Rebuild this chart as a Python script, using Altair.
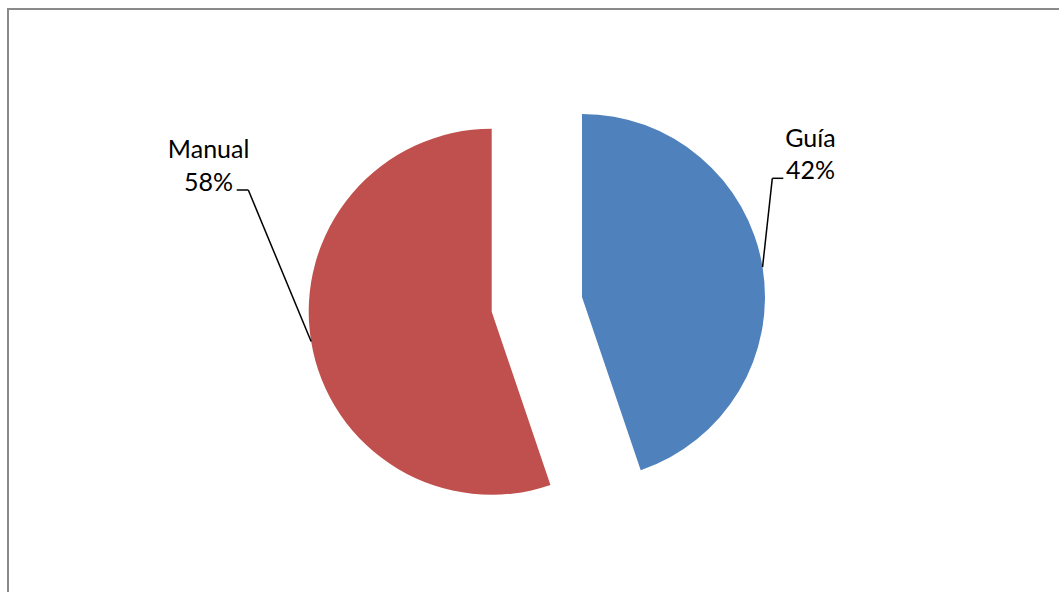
import math
import altair as alt
import pandas as pd

# ---- data ----
categories = ["Guía", "Manual"]
shares = [44.8, 55.2]            # slice sizes as drawn
pct_labels = ["42%", "58%"]      # label texts as printed
colors = ["#4F81BD", "#C0504D"]

# ---- layout (pixels) ----
W, H = 1059, 592
PCX, PCY = 536.85, 304.35        # pie centre before explosion
R = 183                          # radius
EXPLODE = 45.75                  # explosion distance
label_layout = {
    "Guía":   dict(lx=810.4, ly=146.7, bx=772.3, by=178.3, ex=783.3, ey=178.3),
    "Manual": dict(lx=208.6, ly=158.3, bx=248.3, by=190.0, ex=236.7, ey=190.0),
}

rows = []
for i, (c, s, p) in enumerate(zip(categories, shares, pct_labels)):
    r = dict(category=c, share=s, pct=p, order=i)
    r.update(label_layout[c])
    rows.append(r)
df = pd.DataFrame(rows)
total = sum(shares)

xs = alt.Scale(domain=[0, W], range=[0, W], nice=False, zero=False)
ys = alt.Scale(domain=[0, H], range=[0, H], nice=False, zero=False)

base = (
    alt.Chart(df)
    .transform_joinaggregate(total="sum(share)")
    .transform_window(cum="sum(share)", sort=[alt.SortField("order", order="ascending")], frame=[None, 0])
    .transform_calculate(start="datum.cum - datum.share")
    .transform_calculate(mid="(datum.cum - datum.share/2) / datum.total * 2 * PI")
    .transform_calculate(cx=f"{PCX} + {EXPLODE} * sin(datum.mid)")
    .transform_calculate(cy=f"{PCY} - {EXPLODE} * cos(datum.mid)")
    .transform_calculate(ax=f"datum.cx + {R} * sin(datum.mid)")
    .transform_calculate(ay=f"datum.cy - {R} * cos(datum.mid)")
    .transform_calculate(txt="datum.category + '\\n' + datum.pct")
)

arcs = base.mark_arc(radius=R).encode(
    theta=alt.Theta("start:Q", scale=alt.Scale(domain=[0, total], range=[0, 2 * math.pi]), stack=None),
    theta2=alt.Theta2("cum:Q"),
    x=alt.X("cx:Q", scale=xs, axis=None),
    y=alt.Y("cy:Q", scale=ys, axis=None),
    color=alt.Color("category:N", scale=alt.Scale(domain=categories, range=colors), legend=None),
)

lead1 = base.mark_rule(color="#000000", strokeWidth=1.5).encode(
    x=alt.X("ax:Q", scale=xs, axis=None),
    y=alt.Y("ay:Q", scale=ys, axis=None),
    x2="bx:Q",
    y2="by:Q",
)
lead2 = base.mark_rule(color="#000000", strokeWidth=1.5).encode(
    x=alt.X("bx:Q", scale=xs, axis=None),
    y=alt.Y("by:Q", scale=ys, axis=None),
    x2="ex:Q",
    y2="ey:Q",
)

labels = base.mark_text(
    font="Lato", fontSize=25, align="center", baseline="alphabetic",
    lineBreak="\n", lineHeight=32.5, color="#000000",
).encode(
    x=alt.X("lx:Q", scale=xs, axis=None),
    y=alt.Y("ly:Q", scale=ys, axis=None),
    text="txt:N",
)

border = alt.Chart(pd.DataFrame({"a": [0]})).mark_rect(
    filled=False, stroke="#8a8a8a", strokeWidth=2
).encode(
    x=alt.value(8), y=alt.value(9), x2=alt.value(W + 20), y2=alt.value(H + 20)
)

chart = (
    alt.layer(border, arcs, lead1, lead2, labels)
    .properties(width=W, height=H, autosize=alt.AutoSizeParams(type="none"), padding=0, background="white")
    .configure_view(stroke=None)
)

chart.save("out.html", embed_options={"renderer": "svg", "actions": False})
